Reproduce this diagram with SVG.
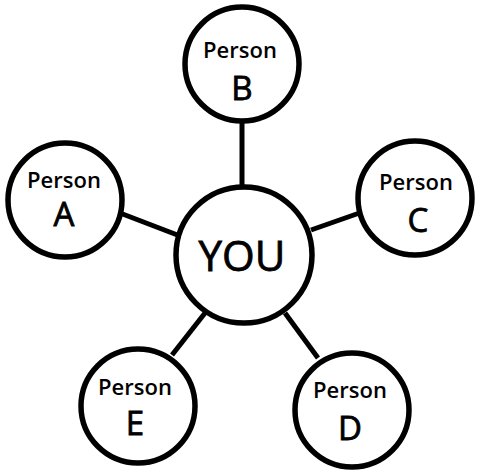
<svg xmlns="http://www.w3.org/2000/svg" width="477" height="470" viewBox="0 0 477 470">
<style>
.n{fill:#fff;stroke:#000;stroke-width:5.5}
.c{stroke:#000;stroke-width:5;fill:none}
.p{font-family:"Open Sans",sans-serif;font-weight:600;font-size:22px;text-anchor:middle;fill:#000}
.l{font-family:"Open Sans",sans-serif;font-size:33px;text-anchor:middle;fill:#000;stroke:#000;stroke-width:0.8}
.y{font-family:"Open Sans",sans-serif;font-size:42px;text-anchor:middle;fill:#000;stroke:#000;stroke-width:0.8}
</style>
<rect width="477" height="470" fill="#fff"/>
<g id="connectors">
<line class="c" x1="242" y1="120" x2="242" y2="188"/>
<line class="c" x1="120" y1="213" x2="180" y2="236"/>
<line class="c" x1="368" y1="210" x2="311" y2="230"/>
<line class="c" x1="172" y1="355" x2="205" y2="313"/>
<line class="c" x1="318" y1="358" x2="285" y2="313"/>
</g>
<g id="you"><circle class="n" cx="244" cy="255" r="68"/><text class="y" x="242" y="271">YOU</text></g>
<g id="personB"><circle class="n" cx="242" cy="64" r="57"/><text class="p" x="240" y="58">Person</text><text class="l" x="242" y="100">B</text></g>
<g id="personA"><circle class="n" cx="65" cy="200" r="57"/><text class="p" x="64" y="188">Person</text><text class="l" x="64" y="226">A</text></g>
<g id="personC"><circle class="n" cx="415" cy="198" r="57"/><text class="p" x="416" y="190">Person</text><text class="l" x="418" y="232">C</text></g>
<g id="personE"><circle class="n" cx="138" cy="406" r="57"/><text class="p" x="135" y="395">Person</text><text class="l" x="135" y="435">E</text></g>
<g id="personD"><circle class="n" cx="352" cy="410" r="57"/><text class="p" x="350" y="398">Person</text><text class="l" x="350" y="440">D</text></g>
</svg>
